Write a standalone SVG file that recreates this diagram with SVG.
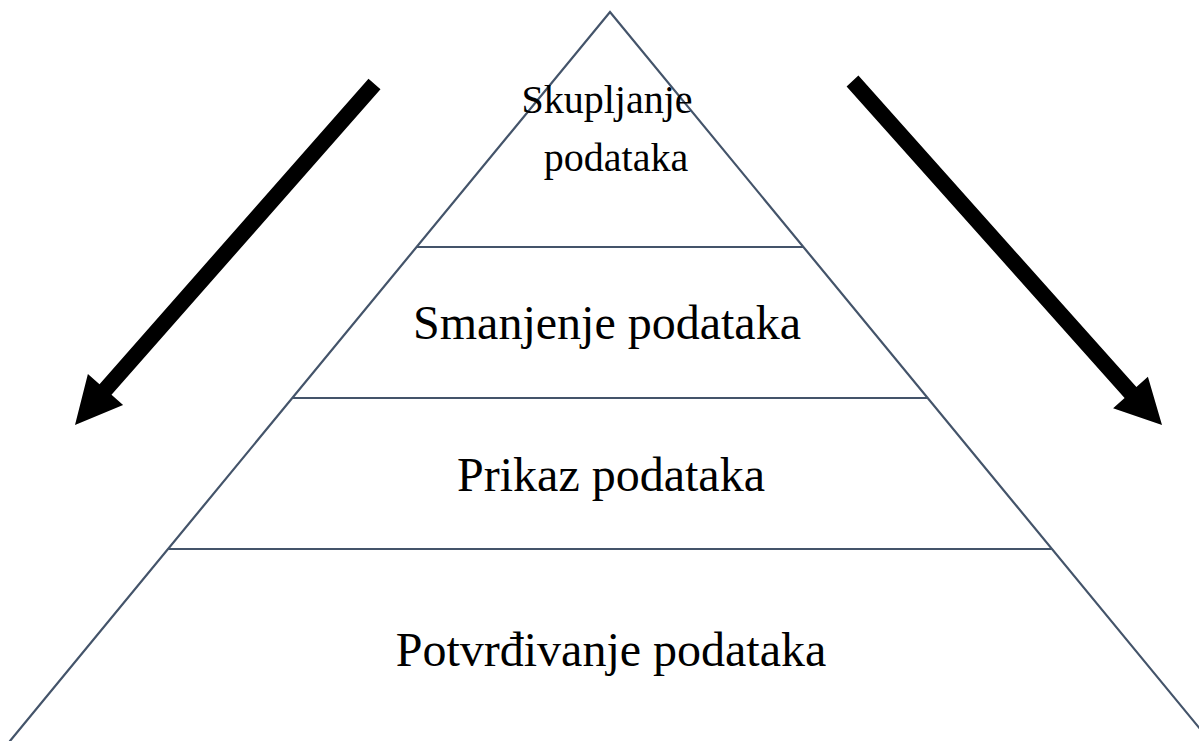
<svg xmlns="http://www.w3.org/2000/svg" width="1199" height="741" viewBox="0 0 1199 741">
<style>
.edge{stroke:#44546A;stroke-width:2.2;fill:none;stroke-linecap:round}
.arrow{fill:#000000}
text{font-family:"Liberation Serif","Times New Roman",serif;fill:#000000;text-anchor:middle}
.t1{font-size:40px}
.t2{font-size:48px}
</style>
<rect width="1199" height="741" fill="#ffffff"/>
<g id="pyramid">
<path class="edge" d="M10,741 L610,12 L1210,741"/>
</g>
<g id="level1">
<text class="t1" x="607" y="113">Skupljanje</text>
<text class="t1" x="616" y="171">podataka</text>
</g>
<g id="level2">
<line class="edge" x1="417" y1="247" x2="803" y2="247"/>
<text class="t2" x="607" y="339">Smanjenje podataka</text>
</g>
<g id="level3">
<line class="edge" x1="293" y1="398" x2="927" y2="398"/>
<text class="t2" x="611" y="491">Prikaz podataka</text>
</g>
<g id="level4">
<line class="edge" x1="169" y1="549" x2="1051" y2="549"/>
<text class="t2" x="611" y="666">Potvrđivanje podataka</text>
</g>
<g id="connectors">
<polygon class="arrow" points="368.5,78.7 380.5,89.3 111.5,394.8 123.1,404.9 75,425 87.9,374.1 99.5,384.2"/>
<polygon class="arrow" points="858.4,75.6 1136.4,387.1 1147.9,376.8 1162,425 1113.1,408.2 1124.6,397.9 846.6,86.4"/>
</g>
</svg>
